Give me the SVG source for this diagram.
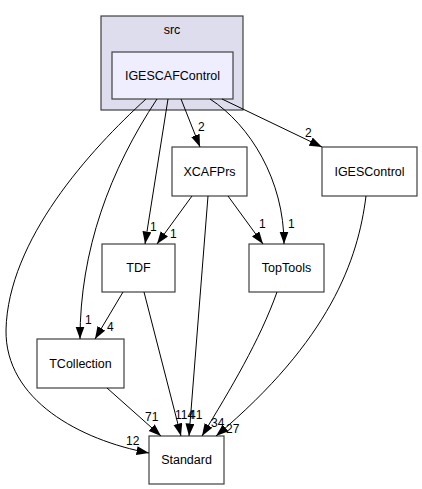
<svg xmlns="http://www.w3.org/2000/svg" width="422" height="489" viewBox="0 0 422 489">
<style>
text{font-family:"Liberation Sans",Arial,sans-serif;fill:#000}
.n{font-size:12.5px;text-anchor:middle}
.l{font-size:12px}
.box{fill:#fff;stroke:#404040;stroke-width:1.2}
.e{fill:none;stroke:#000;stroke-width:1;marker-end:url(#ah)}
</style>
<defs>
<marker id="ah" markerUnits="userSpaceOnUse" markerWidth="14" markerHeight="10" refX="12.5" refY="4.5" orient="auto">
<path d="M0,0 L12.5,4.5 L0,9 z" fill="#000"/>
</marker>
</defs>
<g id="cluster_src">
<rect x="101" y="16" width="142" height="94" fill="#ddddee" stroke="#404040" stroke-width="1.2"/>
<text class="n" x="172" y="34">src</text>
</g>
<g id="node_IGESCAFControl">
<rect x="112" y="52" width="121" height="47" fill="#eeeeff" stroke="#404040" stroke-width="1.2"/>
<text class="n" x="172.5" y="80">IGESCAFControl</text>
</g>
<g id="node_XCAFPrs">
<rect class="box" x="172" y="147" width="75" height="49"/>
<text class="n" x="209.5" y="176">XCAFPrs</text>
</g>
<g id="node_IGESControl">
<rect class="box" x="322" y="147" width="95" height="49"/>
<text class="n" x="369.5" y="176">IGESControl</text>
</g>
<g id="node_TDF">
<rect class="box" x="102" y="244" width="73" height="48"/>
<text class="n" x="138.5" y="272">TDF</text>
</g>
<g id="node_TopTools">
<rect class="box" x="249" y="244" width="75" height="48"/>
<text class="n" x="286.5" y="272">TopTools</text>
</g>
<g id="node_TCollection">
<rect class="box" x="37" y="339" width="87" height="49"/>
<text class="n" x="80.5" y="368">TCollection</text>
</g>
<g id="node_Standard">
<rect class="box" x="149" y="436" width="75" height="48"/>
<text class="n" x="186.5" y="464">Standard</text>
</g>
<g id="edges">
<path class="e" d="M146,99 C90,150 8,240 6,330 C5,400 80,440 149,453"/>
<text class="l" x="126" y="445">12</text>
<path class="e" d="M157,99 C110,170 80,250 80,339"/>
<text class="l" x="85" y="324">1</text>
<path class="e" d="M168,99 L145,244"/>
<text class="l" x="150" y="231">1</text>
<path class="e" d="M181,99 L200,147"/>
<text class="l" x="198" y="131">2</text>
<path class="e" d="M210,99 C250,125 284,180 284,244"/>
<text class="l" x="288" y="228">1</text>
<path class="e" d="M222,99 L322,147"/>
<text class="l" x="305" y="137">2</text>
<path class="e" d="M192,196 L157,244"/>
<text class="l" x="170" y="238">1</text>
<path class="e" d="M228,196 L263,244"/>
<text class="l" x="259" y="228">1</text>
<path class="e" d="M208,196 L189,436"/>
<text class="l" x="189" y="419">41</text>
<path class="e" d="M144,292 L181,436"/>
<text class="l" x="175" y="419">114</text>
<path class="e" d="M123,292 L95,339"/>
<text class="l" x="107" y="331">4</text>
<path class="e" d="M107,388 L161,436"/>
<text class="l" x="145" y="421">71</text>
<path class="e" d="M277,292 C260,340 230,390 202,436"/>
<text class="l" x="211" y="427">34</text>
<path class="e" d="M366,196 C358,260 330,340 216,436"/>
<text class="l" x="226" y="433">27</text>
</g>
</svg>
